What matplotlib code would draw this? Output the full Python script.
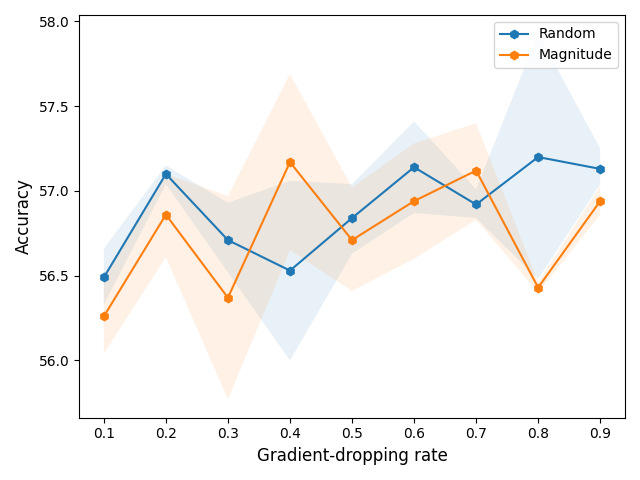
import numpy as np
import matplotlib
matplotlib.use("Agg")
import matplotlib.pyplot as plt

rates = [0.1, 0.2, 0.3, 0.4, 0.5, 0.6, 0.7, 0.8, 0.9]

random_mean = [56.49, 57.10, 56.71, 56.53, 56.84, 57.14, 56.92, 57.20, 57.13]
random_low = [56.33, 57.04, 56.52, 56.00, 56.63, 56.87, 56.84, 56.48, 57.04]
random_high = [56.66, 57.15, 56.93, 57.06, 57.04, 57.41, 57.01, 57.93, 57.25]

magnitude_mean = [56.26, 56.86, 56.37, 57.17, 56.71, 56.94, 57.12, 56.43, 56.94]
magnitude_low = [56.04, 56.61, 55.77, 56.65, 56.41, 56.60, 56.83, 56.40, 56.86]
magnitude_high = [56.48, 57.10, 56.97, 57.69, 57.02, 57.28, 57.40, 56.46, 57.03]

fig, ax = plt.subplots(figsize=(6.4, 4.8), dpi=100)

ax.plot(rates, random_mean, marker="h", label="Random")
ax.fill_between(rates, random_low, random_high, alpha=0.1)
ax.plot(rates, magnitude_mean, marker="h", label="Magnitude")
ax.fill_between(rates, magnitude_low, magnitude_high, alpha=0.1)

ax.set_xlabel("Gradient-dropping rate", fontsize=12)
ax.set_ylabel("Accuracy", fontsize=12)
ax.legend(loc="upper right")

plt.tight_layout()
plt.savefig("out.png")
